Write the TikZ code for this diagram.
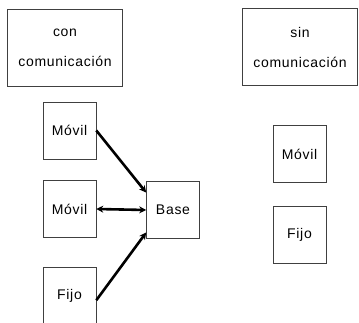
\documentclass[tikz,border=0pt]{standalone}
\usepackage{fontspec}
\setmainfont{Liberation Sans}[LetterSpace=5]
\usetikzlibrary{arrows.meta}
\begin{document}
\begin{tikzpicture}[x=1pt, y=-1pt,
    caja/.style={draw=black!75, line width=0.6pt, inner sep=0pt, font=\fontsize{14}{17}\selectfont, align=center},
    chica/.style={caja, minimum width=53pt, minimum height=57pt},
    grande/.style={caja, minimum width=115pt, minimum height=77pt},
    punta/.tip={Stealth[length=7pt, width=7pt]},
    flecha/.style={line width=2.6pt, -punta}]
    \useasboundingbox (0,0) rectangle (359,323);

    % Two title boxes on top
    \node[grande] (con) at (65,47.5) {con\\[13pt]comunicación};
    \node[grande] (sin) at (300,47) {sin\\[13pt]comunicación};

    % Left column, the three terminals
    \node[chica] (movil_1) at (69.5,130.5) {Móvil};
    \node[chica] (movil_2) at (69.5,209) {Móvil};
    \node[chica] (fijo_1) at (69.5,296) {Fijo};

    % Base station
    \node[chica] (base) at (173,210) {Base};

    % Right column, without communication
    \node[chica] (movil_3) at (299.5,154) {Móvil};
    \node[chica] (fijo_2) at (299.5,234.5) {Fijo};

    % Connections
    \draw[flecha] (movil_1.east) -- (base.147);
    \draw[flecha, punta-punta] (movil_2.east) -- (base.west);
    \draw[flecha] (fijo_1.-9) -- (base.220);

\end{tikzpicture}
\end{document}
